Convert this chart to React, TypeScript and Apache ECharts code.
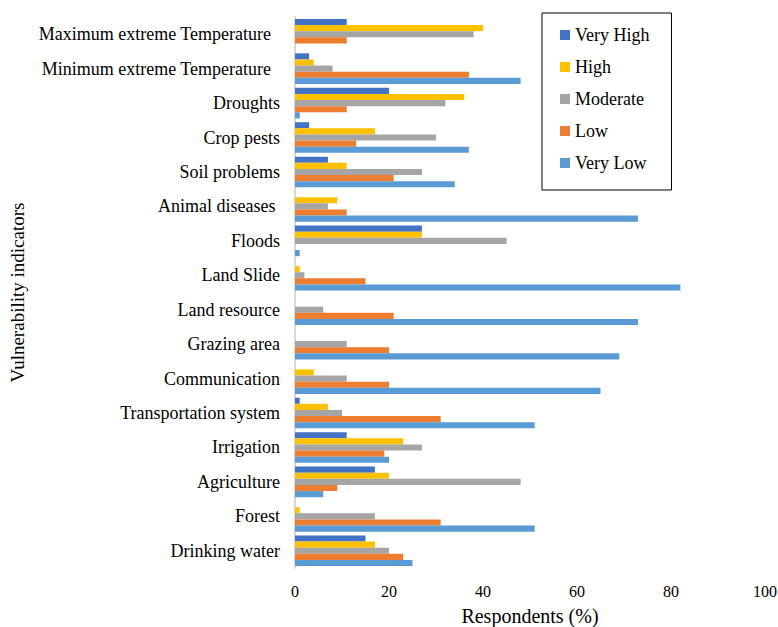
import React, { useEffect, useRef } from "react";
import * as echarts from "echarts";

const categories = [
  "Maximum extreme Temperature\u00a0\u00a0",
  "Minimum extreme Temperature\u00a0\u00a0",
  "Droughts",
  "Crop pests",
  "Soil problems",
  "Animal diseases\u00a0",
  "Floods",
  "Land Slide",
  "Land resource",
  "Grazing area",
  "Communication",
  "Transportation system",
  "Irrigation",
  "Agriculture",
  "Forest",
  "Drinking water",
];

const veryHigh = [11, 3, 20, 3, 7, 0, 27, 0, 0, 0, 0, 1, 11, 17, 0, 15];
const high = [40, 4, 36, 17, 11, 9, 27, 1, 0, 0, 4, 7, 23, 20, 1, 17];
const moderate = [38, 8, 32, 30, 27, 7, 45, 2, 6, 11, 11, 10, 27, 48, 17, 20];
const low = [11, 37, 11, 13, 21, 11, 0, 15, 21, 20, 20, 31, 19, 9, 31, 23];
const veryLow = [0, 48, 1, 37, 34, 73, 1, 82, 73, 69, 65, 51, 20, 6, 51, 25];

const seriesNames = ["Very High", "High", "Moderate", "Low", "Very Low"];
const seriesData = [veryHigh, high, moderate, low, veryLow];
const colors = ["#4472C4", "#FFC000", "#A5A5A5", "#ED7D31", "#5B9BD5"];

const FONT = "Liberation Serif";

export default function App() {
  const ref = useRef<HTMLDivElement>(null);
  useEffect(() => {
    if (!ref.current) return;
    const chart = echarts.init(ref.current, undefined, { renderer: "svg" });
    chart.setOption({
      animation: false,
      backgroundColor: "#ffffff",
      textStyle: { fontFamily: FONT },
      grid: {
        left: 295,
        right: 13,
        top: 17,
        bottom: 59,
        containLabel: false,
        outerBoundsMode: "none",
      },
      legend: {
        orient: "vertical",
        left: 542,
        top: 13,
        padding: [13, 22, 18, 18],
        itemGap: 14,
        itemWidth: 10,
        itemHeight: 10,
        icon: "rect",
        borderColor: "#000000",
        borderWidth: 1,
        textStyle: { fontFamily: FONT, fontSize: 18, color: "#000000" },
        data: seriesNames,
      },
      xAxis: {
        type: "value",
        min: 0,
        max: 100,
        interval: 20,
        name: "Respondents (%)",
        nameLocation: "middle",
        nameGap: 38,
        nameTextStyle: { fontFamily: FONT, fontSize: 20, color: "#000000" },
        axisLine: { show: false },
        axisTick: { show: false },
        splitLine: { show: false },
        axisLabel: { fontFamily: FONT, fontSize: 16, color: "#000000", margin: 15 },
      },
      yAxis: {
        type: "category",
        inverse: true,
        data: categories,
        name: "Vulnerability indicators",
        nameLocation: "middle",
        nameRotate: 90,
        nameGap: 266,
        nameTextStyle: { fontFamily: FONT, fontSize: 19, color: "#000000" },
        axisLine: { show: true, lineStyle: { color: "#D9D9D9", width: 2 } },
        axisTick: { show: false },
        axisLabel: { fontFamily: FONT, fontSize: 18, color: "#000000", margin: 15 },
      },
      series: seriesNames.map((name, i) => ({
        name,
        type: "bar",
        data: seriesData[i],
        itemStyle: { color: colors[i] },
        barGap: "0%",
        barCategoryGap: "11%",
      })),
    });
    return () => chart.dispose();
  }, []);
  return (
    <div
      ref={ref}
      style={{ position: "absolute", left: 0, top: 0, width: 778, height: 627 }}
    />
  );
}
